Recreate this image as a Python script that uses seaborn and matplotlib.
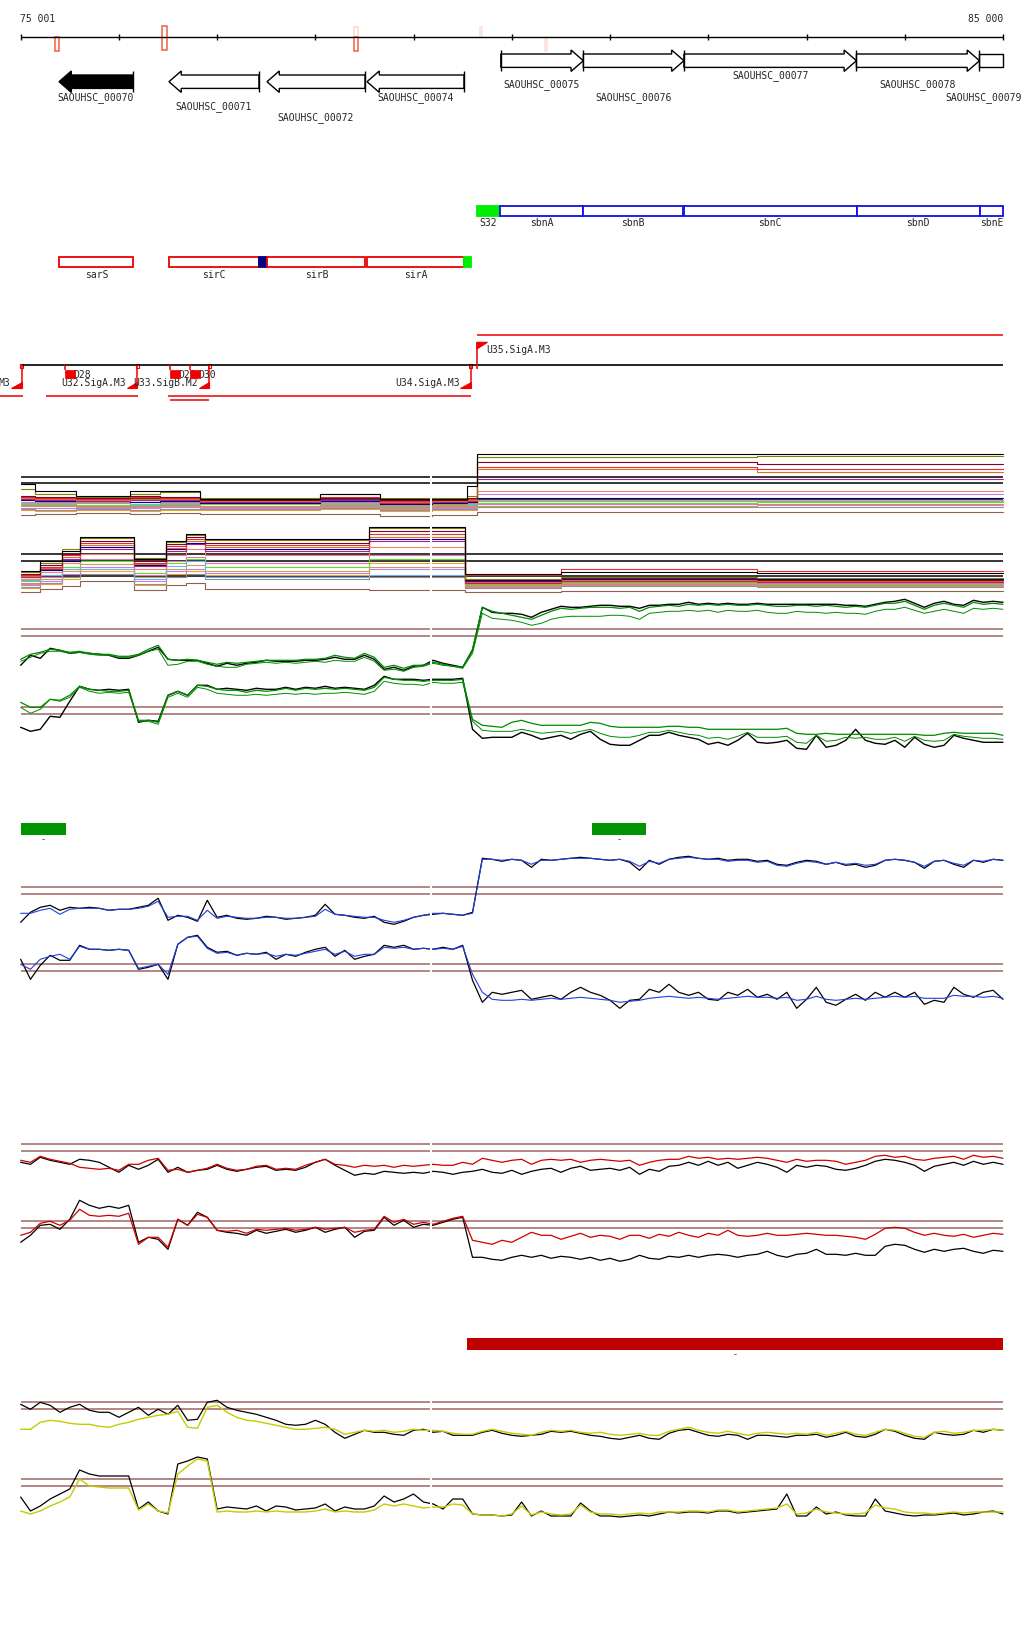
import seaborn as sns
import matplotlib.pyplot as plt
from matplotlib.patches import Polygon, Rectangle

sns.set_theme(style="white")
plt.rcParams["font.family"] = ["DejaVu Sans Mono", "DejaVu Sans"]

# ---------------- data ----------------
# tiling-array probes, one every 100 bp over the 75 001 - 85 000 window
POS = list(range(75000, 85001, 100))

RULER_TICKS = [75001, 76000, 77000, 78000, 79000, 80000, 81000, 82000, 83000, 84000, 85000]

GENE_NAMES = ["SAOUHSC_00070", "SAOUHSC_00071", "SAOUHSC_00072", "SAOUHSC_00074",
              "SAOUHSC_00075", "SAOUHSC_00076", "SAOUHSC_00077", "SAOUHSC_00078",
              "SAOUHSC_00079"]
GENE_START = [75391, 76510, 77508, 78526, 79888, 80728, 81752, 83508, 84761]
GENE_END = [76144, 77426, 78506, 79513, 80728, 81752, 83508, 84761, 85000]
GENE_STRAND = ["-", "-", "-", "-", "+", "+", "+", "+", "+"]

MARK_START = [75353, 76442, 78396, 78396, 79679, 80342]
MARK_END = [75388, 76493, 78431, 78431, 79699, 80362]
MARK_STRAND = ["-", "b", "-", "+", "+", "-"]

FEAT1_NAMES = ["S32", "sbnA", "sbnB", "sbnC", "sbnD", "sbnE"]
FEAT1_START = [79645, 79878, 80728, 81752, 83509, 84763]
FEAT1_END = [79878, 80728, 81742, 83509, 84763, 85000]

FEAT2_NAMES = ["sarS", "sirC", "", "sirB", "sirA", ""]
FEAT2_START = [75394, 76510, 77429, 77511, 78529, 79516]
FEAT2_END = [76147, 77426, 77505, 78508, 79516, 79584]

TSS_POS = [75011, 76188, 76921, 79581, 79645]
TSS_STRAND = ["-", "-", "-", "-", "+"]
TSS_LABEL = ["M3", "U32.SigA.M3", "U33.SigB.M2", "U34.SigA.M3", "U35.SigA.M3"]

DBOX_NAMES = ["D28", "D29", "D30"]
DBOX_START = [75455, 76520, 76727]

TU_START = [74790, 75258, 76503, 76520, 79645]
TU_END = [75021, 76198, 79581, 76921, 85000]

GREEN_BAR_START = [75000, 80816]
GREEN_BAR_END = [75460, 81365]
RED_BAR_START = [79541]
RED_BAR_END = [85000]

# multi-condition panel (step profiles between change points)
A1_BREAKS = [75001, 75150, 75560, 76110, 76420, 76830, 78050, 78660, 79190, 79540, 79650, 82500]
A1_LEVELS = [
    [40, 33, 28, 33, 33, 25, 30, 25, 25, 38, 70, 70],
    [35, 30, 27, 30, 32, 26, 30, 26, 26, 28, 67, 68],
    [28, 27, 26, 28, 27, 24, 26, 24, 24, 26, 62, 60],
    [27, 26, 25, 27, 26, 24, 27, 23, 24, 25, 57, 55],
    [26, 25, 24, 25, 25, 23, 26, 22, 23, 24, 55, 52],
    [25, 24, 23, 24, 24, 22, 24, 21, 22, 23, 45, 45],
    [24, 23, 23, 22, 23, 21, 23, 20, 21, 22, 26, 26],
    [22, 22, 21, 22, 22, 21, 22, 19, 20, 21, 33, 33],
    [21, 21, 22, 20, 21, 22, 21, 21, 20, 20, 23, 23],
    [20, 20, 19, 19, 20, 20, 20, 18, 19, 19, 21, 22],
    [19, 19, 18, 18, 19, 18, 19, 17, 18, 18, 20, 20],
    [18, 18, 17, 17, 18, 17, 18, 16, 17, 17, 18, 19],
    [16, 16, 16, 16, 17, 16, 17, 15, 16, 16, 30, 30],
    [15, 14, 15, 14, 15, 15, 16, 14, 15, 15, 17, 17],
    [14, 13, 14, 13, 14, 14, 15, 13, 14, 14, 24, 24],
    [9, 10, 11, 10, 11, 10, 10, 8, 9, 9, 12, 12],
]
A1_REFS = [46.7, 40.7, 25]

A2_BREAKS = [75001, 75200, 75420, 75600, 76150, 76480, 76680, 76880, 78550, 79190, 79520, 80500, 82500]
A2_LEVELS = [
    [28, 38, 48, 62, 40, 58, 65, 60, 72, 72, 25, 27, 26],
    [27, 36, 50, 61, 41, 57, 64, 59, 71, 71, 20, 22, 21],
    [25, 34, 45, 58, 38, 55, 62, 56, 68, 68, 18, 21, 19],
    [24, 32, 44, 56, 36, 53, 60, 54, 65, 65, 24, 30, 28],
    [23, 31, 42, 54, 35, 51, 58, 52, 62, 62, 17, 19, 18],
    [22, 30, 40, 50, 33, 48, 55, 48, 58, 58, 16, 18, 17],
    [22, 29, 38, 52, 34, 50, 56, 50, 60, 60, 19, 20, 20],
    [20, 27, 36, 45, 30, 44, 50, 44, 52, 52, 15, 17, 16],
    [19, 24, 30, 30, 20, 33, 38, 22, 24, 24, 19, 21, 20],
    [18, 24, 32, 38, 26, 36, 40, 32, 40, 40, 14, 16, 15],
    [16, 22, 30, 40, 24, 38, 42, 36, 44, 44, 13, 15, 14],
    [15, 20, 28, 35, 22, 30, 34, 28, 32, 32, 12, 14, 13],
    [14, 18, 25, 32, 18, 28, 30, 26, 30, 30, 15, 16, 16],
    [12, 16, 22, 25, 15, 22, 25, 20, 22, 22, 11, 13, 12],
    [11, 15, 20, 28, 14, 25, 28, 24, 36, 36, 16, 17, 17],
    [7, 10, 13, 18, 9, 14, 16, 10, 9, 9, 7, 8, 8],
]
A2_REFS = [44.7, 37.7, 22.7]

THRESH = [50, 43]

B1_BLACK = [14, 24, 21, 31, 29, 26, 27, 26, 25, 24,
            21, 21, 24, 28, 32, 20, 19, 19, 19, 16,
            13, 16, 14, 16, 17, 19, 18, 18, 18, 19,
            19, 20, 22, 20, 20, 24, 20, 10, 12, 9,
            13, 14, 19, 16, 14, 12, 29, 72, 67, 66,
            66, 65, 62, 67, 70, 73, 72, 72, 73, 74,
            74, 73, 73, 71, 74, 74, 75, 75, 77, 75,
            76, 75, 76, 75, 75, 76, 75, 75, 75, 75,
            75, 75, 75, 75, 74, 74, 73, 75, 77, 78,
            80, 76, 72, 76, 78, 75, 74, 79, 77, 78,
            77]
B1_GREEN = [20, 25, 27, 30, 29, 27, 28, 26, 25, 25,
            23, 23, 25, 30, 34, 20, 19, 20, 19, 17,
            15, 17, 16, 17, 18, 19, 19, 19, 19, 20,
            20, 21, 24, 22, 21, 26, 22, 12, 14, 11,
            14, 14, 17, 15, 13, 12, 30, 72, 68, 66,
            64, 62, 60, 64, 68, 71, 70, 71, 72, 72,
            72, 71, 72, 68, 72, 73, 74, 73, 75, 74,
            75, 74, 75, 74, 74, 75, 74, 73, 73, 74,
            74, 73, 74, 73, 72, 73, 72, 74, 76, 76,
            78, 74, 70, 74, 76, 74, 72, 77, 75, 76,
            75]
B1_GREEN2 = [18, 22, 26, 28, 28, 26, 27, 25, 24, 24,
             22, 22, 24, 28, 30, 14, 15, 18, 18, 15,
             13, 12, 12, 15, 16, 17, 16, 17, 16, 17,
             18, 17, 19, 18, 18, 22, 18, 9, 10, 8,
             12, 13, 16, 14, 13, 11, 26, 66, 61, 60,
             59, 57, 54, 56, 60, 62, 63, 63, 63, 63,
             64, 64, 63, 60, 66, 67, 68, 68, 69, 68,
             69, 67, 69, 68, 68, 69, 67, 66, 66, 68,
             67, 67, 66, 67, 66, 66, 65, 68, 70, 70,
             72, 69, 66, 68, 70, 68, 66, 71, 70, 71,
             70]

B2_BLACK = [30, 26, 28, 41, 40, 56, 71, 68, 67, 68,
            67, 68, 35, 37, 36, 62, 66, 62, 72, 72,
            68, 69, 68, 67, 69, 68, 68, 70, 68, 70,
            69, 71, 69, 70, 69, 68, 72, 81, 78, 78,
            78, 77, 78, 78, 78, 79, 28, 19, 20, 20,
            20, 25, 22, 18, 20, 22, 18, 23, 26, 18,
            13, 12, 12, 17, 22, 22, 25, 22, 20, 18,
            13, 15, 12, 17, 24, 15, 14, 15, 17, 9,
            8, 22, 10, 12, 17, 28, 17, 14, 13, 17,
            10, 20, 13, 10, 12, 22, 19, 17, 15, 15,
            15]
B2_GREEN = [55, 50, 50, 58, 57, 62, 71, 68, 67, 66,
            66, 67, 37, 37, 35, 62, 66, 62, 72, 71,
            68, 67, 67, 65, 67, 66, 67, 69, 67, 69,
            68, 69, 68, 69, 68, 67, 70, 80, 78, 77,
            77, 76, 77, 77, 77, 78, 38, 32, 31, 30,
            35, 37, 34, 32, 32, 32, 32, 32, 35, 34,
            31, 30, 30, 30, 30, 30, 31, 31, 30, 30,
            28, 28, 28, 28, 28, 28, 28, 28, 29, 24,
            23, 23, 24, 23, 23, 23, 23, 23, 23, 23,
            23, 23, 22, 22, 24, 25, 24, 24, 24, 24,
            22]
B2_GREEN2 = [50, 44, 48, 58, 56, 60, 70, 66, 64, 65,
             64, 65, 36, 36, 33, 60, 64, 60, 70, 68,
             64, 63, 62, 62, 63, 62, 63, 64, 63, 64,
             63, 64, 64, 65, 64, 63, 66, 76, 74, 73,
             73, 72, 75, 74, 74, 75, 36, 27, 26, 26,
             26, 28, 26, 24, 25, 26, 24, 26, 28, 24,
             21, 20, 20, 22, 25, 25, 27, 25, 23, 22,
             19, 20, 18, 21, 25, 20, 20, 20, 21, 15,
             14, 22, 16, 17, 20, 19, 20, 18, 18, 20,
             16, 21, 17, 16, 17, 23, 21, 20, 19, 19,
             18]

C1_BLACK = [15, 25, 30, 32, 27, 30, 29, 30, 29, 27,
            28, 28, 30, 32, 39, 17, 22, 20, 16, 37,
            20, 22, 19, 18, 19, 21, 20, 18, 19, 20,
            22, 33, 23, 22, 20, 19, 21, 15, 13, 16,
            20, 22, 23, 24, 23, 22, 25, 79, 78, 76,
            78, 77, 70, 78, 77, 78, 79, 80, 79, 78,
            77, 78, 75, 67, 77, 73, 78, 80, 81, 79,
            78, 79, 77, 78, 78, 76, 77, 73, 72, 75,
            77, 76, 73, 75, 72, 73, 70, 72, 77, 78,
            77, 75, 69, 76, 77, 73, 70, 77, 75, 78,
            77]
C1_BLUE = [24, 24, 27, 29, 23, 28, 29, 29, 29, 27,
           28, 28, 29, 31, 36, 20, 21, 21, 17, 27,
           19, 21, 20, 19, 19, 20, 20, 19, 19, 20,
           21, 28, 23, 22, 21, 20, 20, 17, 15, 17,
           20, 22, 24, 24, 23, 22, 24, 78, 78, 77,
           78, 77, 73, 77, 77, 78, 79, 79, 79, 78,
           77, 78, 76, 71, 76, 74, 78, 79, 80, 79,
           78, 78, 76, 77, 77, 75, 76, 72, 71, 74,
           76, 75, 73, 75, 73, 74, 72, 73, 77, 78,
           77, 75, 71, 76, 77, 74, 72, 77, 76, 78,
           77]

C2_BLACK = [55, 35, 49, 59, 54, 54, 69, 65, 65, 64,
            65, 64, 45, 47, 50, 35, 70, 77, 79, 67,
            62, 63, 59, 61, 60, 62, 55, 60, 58, 62,
            65, 67, 58, 64, 55, 58, 60, 69, 67, 69,
            65, 66, 65, 67, 65, 69, 34, 12, 22, 20,
            22, 24, 15, 17, 19, 15, 22, 27, 22, 19,
            14, 6, 14, 15, 25, 22, 30, 22, 19, 22,
            15, 14, 22, 19, 25, 17, 20, 15, 22, 6,
            15, 27, 12, 9, 15, 20, 14, 22, 17, 22,
            17, 22, 10, 14, 12, 27, 20, 17, 22, 24,
            15]
C2_BLUE = [50, 45, 55, 58, 60, 55, 68, 65, 65, 64,
           65, 64, 46, 48, 50, 40, 70, 77, 78, 66,
           61, 62, 59, 61, 60, 61, 58, 60, 59, 61,
           63, 65, 60, 63, 58, 60, 60, 67, 66, 67,
           65, 66, 65, 66, 65, 68, 40, 22, 15, 14,
           14, 15, 14, 15, 16, 15, 16, 17, 16, 15,
           14, 12, 13, 14, 16, 17, 18, 17, 16, 17,
           16, 15, 16, 17, 18, 17, 17, 16, 17, 14,
           15, 18, 15, 14, 15, 16, 15, 16, 17, 18,
           17, 18, 16, 16, 16, 19, 18, 18, 17, 18,
           16]

D1_BLACK = [32, 30, 37, 34, 32, 30, 35, 34, 32, 27,
            22, 29, 25, 29, 35, 22, 27, 22, 24, 25,
            29, 25, 23, 25, 27, 28, 24, 25, 24, 27,
            32, 35, 29, 24, 19, 21, 20, 23, 22, 21,
            22, 21, 23, 22, 20, 22, 23, 25, 22, 21,
            24, 20, 23, 25, 26, 22, 26, 28, 24, 25,
            26, 24, 27, 20, 25, 23, 28, 29, 32, 29,
            33, 29, 32, 26, 29, 32, 30, 27, 22, 29,
            27, 29, 28, 25, 24, 26, 29, 33, 35, 34,
            32, 29, 23, 28, 30, 32, 29, 33, 30, 32,
            30]
D1_RED = [34, 32, 38, 35, 33, 31, 27, 26, 25, 26,
          24, 30, 30, 34, 36, 24, 25, 22, 24, 26,
          30, 26, 24, 25, 28, 29, 25, 26, 25, 29,
          32, 35, 30, 29, 27, 29, 28, 29, 27, 29,
          28, 29, 30, 29, 29, 32, 30, 36, 34, 32,
          34, 35, 30, 34, 35, 34, 35, 32, 34, 35,
          34, 33, 34, 29, 32, 34, 35, 35, 38, 36,
          37, 35, 36, 35, 36, 37, 36, 34, 32, 35,
          33, 34, 34, 33, 30, 32, 34, 38, 39, 37,
          38, 35, 34, 36, 37, 38, 35, 39, 37, 38,
          36]

D2_BLACK = [29, 36, 46, 47, 42, 52, 71, 66, 63, 65,
            63, 66, 29, 34, 32, 22, 52, 46, 59, 54,
            41, 39, 38, 36, 41, 38, 40, 42, 39, 41,
            44, 39, 42, 44, 34, 40, 41, 54, 46, 51,
            44, 47, 46, 49, 52, 54, 14, 14, 12, 11,
            14, 16, 14, 16, 13, 15, 14, 12, 14, 11,
            13, 10, 12, 16, 13, 12, 15, 14, 16, 14,
            16, 17, 16, 14, 16, 17, 20, 16, 14, 17,
            18, 22, 17, 17, 16, 18, 16, 16, 25, 27,
            26, 22, 19, 22, 20, 22, 23, 20, 18, 21,
            20]
D2_RED = [36, 39, 48, 50, 46, 51, 62, 56, 55, 56,
          55, 58, 27, 34, 34, 24, 52, 46, 57, 54,
          41, 40, 41, 38, 42, 41, 42, 43, 41, 42,
          44, 42, 43, 44, 39, 41, 42, 55, 49, 52,
          47, 49, 47, 50, 53, 55, 31, 29, 27, 31,
          29, 34, 39, 36, 36, 32, 35, 38, 34, 36,
          35, 32, 36, 36, 33, 37, 35, 39, 36, 34,
          38, 36, 41, 36, 35, 36, 38, 36, 36, 37,
          38, 37, 36, 36, 35, 34, 32, 37, 43, 44,
          43, 39, 36, 38, 36, 35, 37, 34, 36, 38,
          37]

E1_BLACK = [48, 43, 50, 47, 40, 45, 48, 42, 40, 40,
            35, 40, 45, 37, 43, 38, 47, 32, 33, 50,
            52, 45, 42, 40, 38, 35, 32, 28, 27, 28,
            32, 28, 20, 14, 18, 22, 20, 20, 18, 17,
            22, 23, 20, 21, 17, 17, 17, 20, 22, 19,
            17, 16, 17, 18, 21, 20, 21, 19, 17, 16,
            14, 13, 15, 17, 14, 13, 19, 22, 23, 20,
            17, 16, 18, 17, 13, 17, 17, 16, 15, 17,
            17, 18, 15, 17, 20, 16, 15, 18, 23, 21,
            17, 14, 13, 20, 18, 17, 18, 22, 20, 23,
            22]
E1_YELLOW = [23, 23, 30, 32, 31, 29, 28, 28, 26, 25,
             28, 30, 33, 35, 37, 38, 41, 25, 24, 45,
             47, 40, 35, 32, 31, 29, 27, 25, 23, 23,
             24, 25, 23, 18, 20, 22, 21, 22, 20, 21,
             23, 22, 22, 21, 19, 18, 18, 21, 23, 21,
             19, 18, 17, 20, 22, 21, 22, 20, 19, 20,
             18, 17, 18, 19, 17, 17, 21, 23, 25, 22,
             20, 19, 21, 19, 17, 19, 20, 19, 18, 19,
             18, 20, 17, 19, 21, 18, 17, 20, 23, 22,
             19, 16, 15, 20, 21, 19, 20, 22, 22, 23,
             22]

E2_BLACK = [32, 18, 23, 30, 35, 40, 59, 55, 53, 53,
            53, 53, 20, 27, 18, 15, 65, 68, 72, 70,
            20, 22, 21, 20, 23, 18, 23, 22, 19, 20,
            21, 25, 18, 22, 20, 20, 23, 33, 27, 30,
            35, 27, 25, 20, 30, 30, 15, 14, 14, 13,
            14, 27, 13, 18, 13, 13, 13, 26, 18, 13,
            13, 12, 13, 14, 13, 15, 17, 16, 17, 17,
            16, 18, 18, 16, 17, 18, 19, 20, 35, 13,
            13, 22, 15, 17, 14, 13, 13, 30, 18, 16,
            14, 13, 14, 14, 15, 16, 14, 15, 17, 18,
            15]
E2_YELLOW = [18, 15, 18, 23, 27, 32, 50, 43, 42, 41,
             41, 41, 19, 25, 18, 16, 55, 63, 70, 68,
             17, 18, 17, 17, 18, 17, 18, 17, 17, 17,
             18, 20, 17, 18, 17, 17, 19, 25, 23, 25,
             23, 21, 22, 22, 25, 24, 15, 14, 14, 13,
             15, 23, 14, 17, 15, 14, 15, 24, 17, 15,
             15, 14, 15, 16, 15, 17, 17, 17, 18, 18,
             17, 19, 19, 17, 18, 19, 20, 21, 25, 15,
             16, 20, 17, 16, 15, 15, 16, 24, 21, 20,
             17, 16, 16, 15, 16, 17, 16, 17, 17, 17,
             17]

# ---------------- layout & style ----------------
W, H = 1024, 1640
X_LEFT, X_RIGHT = 74790, 85214      # genome coordinate at the figure edges
GAP = (79168, 79192)                # seam between the two array tiles
FS = 7
BROWN = "#a06464"
GREEN = "#008a00"
BLUE = "#1f3fe0"
RED = "#cc0000"
YELLOW = "#c4cc00"
TOMATO = "#f06040"
A_COLORS = ["#000000", "#808000", "#800030", "#e03030", "#e07020", "#a020a0",
            "#000080", "#f08070", "#70b0f0", "#60e020", "#e070c0", "#c0a060",
            "#c080e0", "#909090", "#f0a030", "#906050"]
GENE_ROW = [82.7, 82.7, 82.7, 82.7, 61.7, 61.7, 61.7, 61.7, 61.7]
GENE_LABEL_ROW = [97.3, 106.7, 117.3, 97.3, 85, 97.3, 76, 85, 97.3]
GENE_FILLED = [True] + [False] * 8
FEAT1_FILL = ["#00ee00", None, None, None, None, None]
FEAT2_FILL = [None, None, "#000080", None, None, "#00ee00"]
TU_ROW = [397.3, 397.3, 397.3, 401.3, 336]
HEAD = 125      # arrow head length, bp
FLAG = 107      # TSS flag width, bp
LABEL_X_MAX = 85190   # keep gene labels inside the figure

fig = plt.figure(figsize=(W / 100, H / 100), dpi=100)
fig.patch.set_facecolor("white")

# overlay axes: genome x, row position y (for annotation rows)
ax0 = fig.add_axes([0, 0, 1, 1])
ax0.set_axis_off()

# ruler
ax0.hlines(38.3, 75001, 85000, color="black", lw=1)
ax0.vlines(RULER_TICKS, 35.3, 41.3, color="black", lw=1)
ax0.text(74990, 19.5, "75 001", ha="left", va="center", fontsize=FS)
ax0.text(85000, 19.5, "85 000", ha="right", va="center", fontsize=FS)
mark_rows = {"+": (28.3, 38.3), "-": (38.3, 51.7), "b": (27.3, 50.7)}
mark_alpha = [1, 1, 1, 0.25, 0.2, 0.2]
for s, e, st, a in zip(MARK_START, MARK_END, MARK_STRAND, mark_alpha):
    top, bot = mark_rows[st]
    ax0.add_patch(Rectangle((s, top), e - s, bot - top, fill=False, ec=TOMATO, lw=1.1, alpha=a))

# genes
for name, s, e, st, yc, ly, filled in zip(GENE_NAMES, GENE_START, GENE_END, GENE_STRAND,
                                         GENE_ROW, GENE_LABEL_ROW, GENE_FILLED):
    b, hh = 6.7, 10.7
    if e >= 85000:
        pts = [(s, yc - b), (e, yc - b), (e, yc + b), (s, yc + b)]
        bar = s
    elif st == "+":
        pts = [(s, yc - b), (e - HEAD, yc - b), (e - HEAD, yc - hh), (e, yc),
               (e - HEAD, yc + hh), (e - HEAD, yc + b), (s, yc + b)]
        bar = s
    else:
        pts = [(e, yc - b), (s + HEAD, yc - b), (s + HEAD, yc - hh), (s, yc),
               (s + HEAD, yc + hh), (s + HEAD, yc + b), (e, yc + b)]
        bar = e
    ax0.add_patch(Polygon(pts, closed=True, fc="black" if filled else "white", ec="black", lw=1))
    ax0.vlines(bar, yc - hh, yc + hh, color="black", lw=1)
    if e >= 85000:
        ax0.text(LABEL_X_MAX, ly, name, ha="right", va="center", fontsize=FS)
    else:
        ax0.text((s + e) / 2, ly, name, ha="center", va="center", fontsize=FS)

# feature rows
for name, s, e, fc in zip(FEAT1_NAMES, FEAT1_START, FEAT1_END, FEAT1_FILL):
    ax0.add_patch(Rectangle((s, 207.3), e - s, 10, fc=fc or "white", ec=fc or "#1010e0", lw=1.3))
    ax0.text((s + e) / 2, 223.5, name, ha="center", va="center", fontsize=FS)
for name, s, e, fc in zip(FEAT2_NAMES, FEAT2_START, FEAT2_END, FEAT2_FILL):
    ax0.add_patch(Rectangle((s, 258.3), e - s, 10, fc=fc or "white", ec=fc or "#ee0000", lw=1.3))
    ax0.text((s + e) / 2, 275, name, ha="center", va="center", fontsize=FS)

# transcription units / TSS
ax0.hlines(366, 75011, 85000, color="black", lw=1.2)
ax0.hlines(TU_ROW, TU_START, TU_END, color="#ee0000", lw=1.1)
for x, st, lab in zip(TSS_POS, TSS_STRAND, TSS_LABEL):
    if st == "-":
        ax0.vlines(x, 366, 389.3, color="#ee0000", lw=1.1)
        ax0.add_patch(Polygon([(x - FLAG, 389.3), (x, 389.3), (x, 382.7)], closed=True,
                              fc="#ee0000", ec="#ee0000", lw=0.8))
        ax0.add_patch(Rectangle((x - 15, 365), 30, 4, fill=False, ec="#ee0000", lw=0.8))
        ax0.text(x - FLAG - 5, 383.3, lab, ha="right", va="center", fontsize=FS)
    else:
        ax0.vlines(x, 343.3, 369.5, color="#ee0000", lw=1.1)
        ax0.add_patch(Polygon([(x, 343.3), (x + FLAG, 343.3), (x, 350)], closed=True,
                              fc="#ee0000", ec="#ee0000", lw=0.8))
        ax0.text(x + 95, 350.3, lab, ha="left", va="center", fontsize=FS)
for name, s in zip(DBOX_NAMES, DBOX_START):
    ax0.text(s + 85, 375.5, name, ha="left", va="center", fontsize=FS, zorder=3)
for s in DBOX_START:
    ax0.vlines(s, 366, 371, color="#ee0000", lw=1.1)
    ax0.add_patch(Rectangle((s, 371), 102, 8.3, fc="#ee0000", ec="#ee0000", lw=0.5, zorder=4))

# region bars
for s, e in zip(GREEN_BAR_START, GREEN_BAR_END):
    ax0.add_patch(Rectangle((s, 824), e - s, 11.7, fc="#009400", ec="none"))
    ax0.text((s + e) / 2, 840, "-", ha="center", va="center", fontsize=6)
for s, e in zip(RED_BAR_START, RED_BAR_END):
    ax0.add_patch(Rectangle((s, 1339), e - s, 11.7, fc="#c00000", ec="none"))
    ax0.text((s + e) / 2, 1355, "-", ha="center", va="center", fontsize=6)

ax0.set_xlim(X_LEFT, X_RIGHT)
ax0.set_ylim(H, 0)


def track(bottom, height):
    ax = fig.add_axes([0, 1 - bottom / H, 1, height / H])
    ax.set_axis_off()
    ax.patch.set_visible(False)
    return ax


def close(ax, height):
    ax.axvspan(*GAP, color="white", lw=0, zorder=10)
    ax.set_xlim(X_LEFT, X_RIGHT)
    ax.set_ylim(0, height)


# multi-condition step profiles
for bottom, height, breaks, levels, refs in [(525, 90, A1_BREAKS, A1_LEVELS, A1_REFS),
                                             (600, 80, A2_BREAKS, A2_LEVELS, A2_REFS)]:
    ax = track(bottom, height)
    ax.hlines(refs, 75001, 85000, color="black", lw=1.1, zorder=1)
    xs = breaks + [85000]
    for lev, c in list(zip(levels, A_COLORS))[::-1]:
        sns.lineplot(x=xs, y=lev + [lev[-1]], ax=ax, color=c, linewidth=0.8,
                     drawstyle="steps-post", estimator=None, sort=False)
    close(ax, height)

# paired condition tracks
TRACKS = [
    (680.3, [(B1_BLACK, "black", 1.0), (B1_GREEN2, GREEN, 0.7), (B1_GREEN, GREEN, 0.9)]),
    (758.3, [(B2_BLACK, "black", 1.0), (B2_GREEN2, GREEN, 0.7), (B2_GREEN, GREEN, 0.9)]),
    (938.3, [(C1_BLACK, "black", 0.9), (C1_BLUE, BLUE, 0.8)]),
    (1015.3, [(C2_BLACK, "black", 0.9), (C2_BLUE, BLUE, 0.8)]),
    (1195.3, [(D1_BLACK, "black", 0.9), (D1_RED, RED, 0.9)]),
    (1272.3, [(D2_BLACK, "black", 0.9), (D2_RED, RED, 0.9)]),
    (1453.3, [(E1_BLACK, "black", 0.9), (E1_YELLOW, YELLOW, 1.0)]),
    (1530.0, [(E2_BLACK, "black", 0.9), (E2_YELLOW, YELLOW, 1.0)]),
]
for bottom, series in TRACKS:
    ax = track(bottom, 100)
    ax.hlines(THRESH, 75001, 85000, color=BROWN, lw=1.1, zorder=1)
    for vals, c, lw in series:
        sns.lineplot(x=POS, y=vals, ax=ax, color=c, linewidth=lw, estimator=None)
    close(ax, 100)

fig.savefig("out.png", dpi=100, facecolor="white")
